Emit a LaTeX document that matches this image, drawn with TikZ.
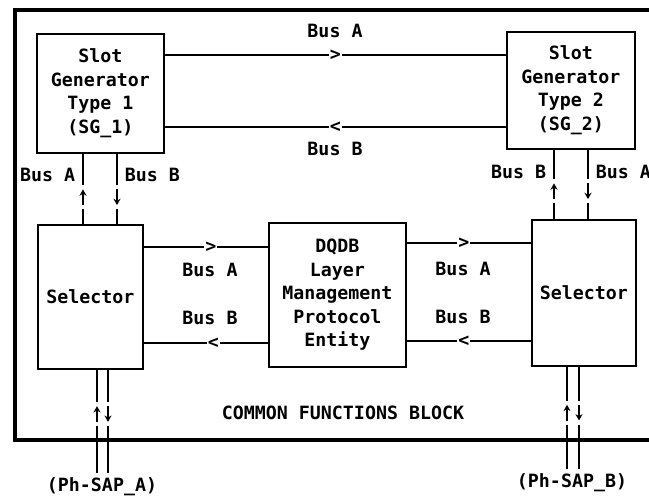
\documentclass[tikz,border=0pt]{standalone}
\usepackage{fontspec}
\setmonofont{DejaVu Sans Mono}
\usetikzlibrary{positioning, arrows.meta}

\begin{document}
\begin{tikzpicture}[x=0.025cm, y=-0.025cm,
    font=\ttfamily\bfseries\fontsize{13}{16.7}\selectfont,
    box/.style={draw, line width=1.1pt, align=center, anchor=north west, inner sep=0pt},
    bus/.style={line width=1.1pt},
    chev/.style={fill=white, inner sep=0.6pt},
    gap/.style={fill=white, inner sep=0pt, minimum width=4pt, minimum height=0.6cm},
    flow/.style={line width=1.3pt, -{Stealth[length=4.5pt, width=5pt]}},
    frame/.style={line width=2.6pt}]
  \useasboundingbox (0,0) rectangle (649,501);
  \clip (0,0) rectangle (649,501);

  % common functions block, open to the right
  \draw[frame] (660,10) -- (15,10) -- (15,440) -- (660,440);
  \node (cfb) at (343,413) {COMMON FUNCTIONS BLOCK};

  % blocks
  \node[box, minimum width=3.175cm, minimum height=2.975cm] (sgone) at (36,33) {Slot\\Generator\\Type 1\\(SG\_1)};
  \node[box, minimum width=3.2cm, minimum height=2.925cm] (sgtwo) at (506,31) {Slot\\Generator\\Type 2\\(SG\_2)};
  \node[box, minimum width=2.625cm, minimum height=3.6cm] (selA) at (37,224) {Selector};
  \node[box, minimum width=3.425cm, minimum height=3.6cm] (dqdb) at (268,222) {DQDB\\Layer\\Management\\Protocol\\Entity};
  \node[box, minimum width=2.6cm, minimum height=3.65cm] (selB) at (531,219) {Selector};

  % buses between the slot generators
  \draw[bus] (sgone.east |- 0,55) -- node[chev] {>} (sgtwo.west |- 0,55);
  \draw[bus] (sgone.east |- 0,127) -- node[chev] {<} (sgtwo.west |- 0,127);
  \node (topA) at (335,31) {Bus A};
  \node (topB) at (335,149) {Bus B};

  % slot generators to selectors
  \draw[bus] (83,0 |- sgone.south) -- node[gap, pos=0.62] (g1) {} (83,0 |- selA.north);
  \draw[bus] (117,0 |- sgone.south) -- node[gap, pos=0.62] (g2) {} (117,0 |- selA.north);
  \draw[flow] ([yshift=3.5pt]g1.south) -- ([yshift=-3.5pt]g1.north);
  \draw[flow] ([yshift=-3.5pt]g2.north) -- ([yshift=3.5pt]g2.south);
  \node[anchor=east] (sgoneA) at (80,175) {Bus A};
  \node[anchor=west] (sgoneB) at (120,175) {Bus B};
  \draw[bus] (554,0 |- sgtwo.south) -- node[gap, pos=0.6] (g3) {} (554,0 |- selB.north);
  \draw[bus] (588,0 |- sgtwo.south) -- node[gap, pos=0.6] (g4) {} (588,0 |- selB.north);
  \draw[flow] ([yshift=3.5pt]g3.south) -- ([yshift=-3.5pt]g3.north);
  \draw[flow] ([yshift=-3.5pt]g4.north) -- ([yshift=3.5pt]g4.south);
  \node[anchor=east] (sgtwoB) at (551,172) {Bus B};
  \node[anchor=west] (sgtwoA) at (591,172) {Bus A};

  % selectors to layer management
  \draw[bus] (selA.east |- 0,247) -- node[chev, pos=0.54] {>} (dqdb.west |- 0,247);
  \draw[bus] (selA.east |- 0,343) -- node[chev, pos=0.56] {<} (dqdb.west |- 0,343);
  \node (midAl) at (210,270) {Bus A};
  \node (midBl) at (210,318) {Bus B};
  \draw[bus] (dqdb.east |- 0,243) -- node[chev, pos=0.46] {>} (selB.west |- 0,243);
  \draw[bus] (dqdb.east |- 0,341) -- node[chev, pos=0.46] {<} (selB.west |- 0,341);
  \node (midAr) at (463,269) {Bus A};
  \node (midBr) at (463,317) {Bus B};

  % physical layer service access points
  \node (phA) at (102,487) {(Ph-SAP\_A)};
  \node (phB) at (572,483) {(Ph-SAP\_B)};
  \draw[bus] (97,0 |- selA.south) -- node[gap, pos=0.43] (g5) {} (97,0 |- phA.north);
  \draw[bus] (108,0 |- selA.south) -- node[gap, pos=0.43] (g6) {} (108,0 |- phA.north);
  \draw[bus] (567,0 |- selB.south) -- node[gap, pos=0.45] (g7) {} (567,0 |- phB.north);
  \draw[bus] (579,0 |- selB.south) -- node[gap, pos=0.45] (g8) {} (579,0 |- phB.north);
  \draw[flow] ([yshift=3.5pt]g5.south) -- ([yshift=-3.5pt]g5.north);
  \draw[flow] ([yshift=-3.5pt]g6.north) -- ([yshift=3.5pt]g6.south);
  \draw[flow] ([yshift=3.5pt]g7.south) -- ([yshift=-3.5pt]g7.north);
  \draw[flow] ([yshift=-3.5pt]g8.north) -- ([yshift=3.5pt]g8.south);
\end{tikzpicture}
\end{document}
